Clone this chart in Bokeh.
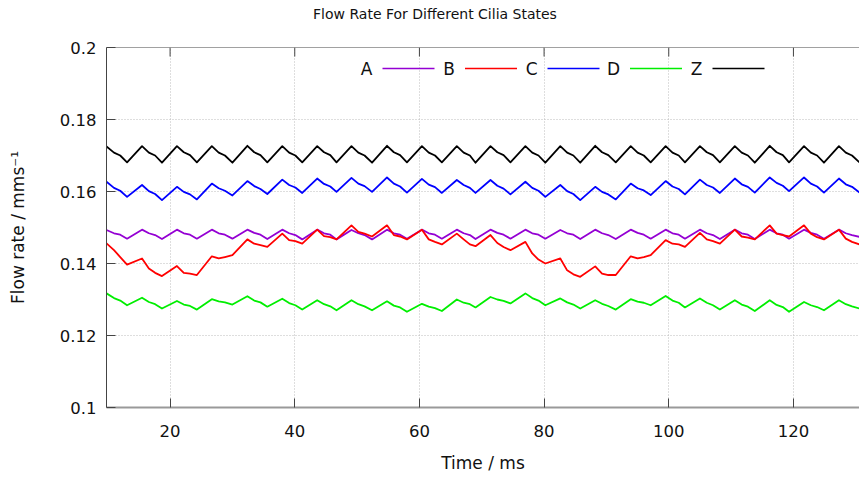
from bokeh.plotting import figure
from bokeh.layouts import column
from bokeh.models import (Range1d, FixedTicker, CustomJSTickFormatter,
                          Label, Arrow, Span, Div)
from bokeh.embed import file_html
from bokeh.resources import INLINE

# ---- data -----------------------------------------------------------------
# sample times (ms): for each beat -> peak, two points on the falling edge, trough
TIME_MS = [
    9.8, 11.0, 12.0, 13.1,
    15.5, 16.6, 17.6, 18.7,
    21.1, 22.2, 23.2, 24.3,
    26.7, 27.8, 28.8, 30.0,
    32.4, 33.5, 34.5, 35.6,
    38.0, 39.1, 40.1, 41.2,
    43.6, 44.7, 45.7, 46.7,
    49.1, 50.2, 51.2, 52.4,
    54.8, 55.9, 56.9, 58.0,
    60.4, 61.5, 62.5, 63.6,
    66.0, 67.1, 68.1, 69.0,
    71.4, 72.5, 73.5, 74.6,
    77.0, 78.1, 79.1, 80.2,
    82.6, 83.7, 84.7, 85.8,
    88.2, 89.3, 90.3, 91.5,
    93.9, 95.0, 96.0, 97.1,
    99.5, 100.6, 101.6, 102.6,
    105.0, 106.1, 107.1, 108.2,
    110.6, 111.7, 112.7, 113.8,
    116.2, 117.3, 118.3, 119.3,
    121.7, 122.8, 123.8, 124.9,
    127.3, 128.4, 129.4, 130.6,
]

FLOW_A = [
    0.1493, 0.1484, 0.1480, 0.1469,
    0.1494, 0.1484, 0.1479, 0.1468,
    0.1494, 0.1484, 0.1480, 0.1469,
    0.1494, 0.1484, 0.1480, 0.1469,
    0.1494, 0.1485, 0.1480, 0.1468,
    0.1494, 0.1484, 0.1479, 0.1467,
    0.1494, 0.1484, 0.1480, 0.1467,
    0.1493, 0.1484, 0.1479, 0.1467,
    0.1494, 0.1484, 0.1480, 0.1469,
    0.1494, 0.1484, 0.1480, 0.1469,
    0.1494, 0.1484, 0.1479, 0.1468,
    0.1494, 0.1485, 0.1480, 0.1469,
    0.1494, 0.1484, 0.1480, 0.1469,
    0.1493, 0.1484, 0.1480, 0.1468,
    0.1494, 0.1484, 0.1479, 0.1468,
    0.1494, 0.1485, 0.1480, 0.1469,
    0.1494, 0.1484, 0.1480, 0.1469,
    0.1494, 0.1484, 0.1479, 0.1468,
    0.1494, 0.1484, 0.1480, 0.1468,
    0.1494, 0.1484, 0.1480, 0.1469,
    0.1494, 0.1485, 0.1480, 0.1469,
    0.1494, 0.1484, 0.1479, 0.1474,
]

FLOW_B = [
    0.1456, 0.1437, 0.1418, 0.1397,
    0.1414, 0.1386, 0.1374, 0.1365,
    0.1393, 0.1374, 0.1372, 0.1368,
    0.1420, 0.1414, 0.1418, 0.1423,
    0.1467, 0.1455, 0.1451, 0.1446,
    0.1483, 0.1465, 0.1462, 0.1455,
    0.1494, 0.1476, 0.1473, 0.1467,
    0.1506, 0.1488, 0.1483, 0.1475,
    0.1506, 0.1479, 0.1475, 0.1467,
    0.1494, 0.1467, 0.1460, 0.1453,
    0.1483, 0.1467, 0.1453, 0.1448,
    0.1479, 0.1457, 0.1446, 0.1437,
    0.1460, 0.1428, 0.1411, 0.1400,
    0.1414, 0.1381, 0.1370, 0.1363,
    0.1392, 0.1372, 0.1368, 0.1368,
    0.1420, 0.1414, 0.1418, 0.1423,
    0.1465, 0.1455, 0.1453, 0.1446,
    0.1485, 0.1467, 0.1462, 0.1455,
    0.1494, 0.1475, 0.1472, 0.1467,
    0.1506, 0.1483, 0.1479, 0.1475,
    0.1506, 0.1483, 0.1473, 0.1467,
    0.1494, 0.1469, 0.1460, 0.1453,
]

FLOW_C = [
    0.1627, 0.1610, 0.1602, 0.1585,
    0.1618, 0.1601, 0.1593, 0.1576,
    0.1613, 0.1599, 0.1592, 0.1578,
    0.1622, 0.1609, 0.1602, 0.1589,
    0.1629, 0.1615, 0.1607, 0.1593,
    0.1633, 0.1618, 0.1611, 0.1596,
    0.1636, 0.1621, 0.1614, 0.1599,
    0.1638, 0.1622, 0.1615, 0.1599,
    0.1639, 0.1622, 0.1614, 0.1597,
    0.1635, 0.1619, 0.1612, 0.1596,
    0.1632, 0.1618, 0.1610, 0.1596,
    0.1632, 0.1616, 0.1608, 0.1592,
    0.1627, 0.1610, 0.1602, 0.1585,
    0.1618, 0.1601, 0.1593, 0.1576,
    0.1613, 0.1599, 0.1592, 0.1578,
    0.1622, 0.1609, 0.1603, 0.1590,
    0.1629, 0.1614, 0.1607, 0.1592,
    0.1633, 0.1618, 0.1611, 0.1596,
    0.1636, 0.1620, 0.1613, 0.1597,
    0.1639, 0.1624, 0.1616, 0.1601,
    0.1639, 0.1622, 0.1614, 0.1597,
    0.1636, 0.1620, 0.1613, 0.1597,
]

FLOW_D = [
    0.1317, 0.1304, 0.1297, 0.1284,
    0.1305, 0.1293, 0.1287, 0.1275,
    0.1296, 0.1286, 0.1282, 0.1272,
    0.1301, 0.1295, 0.1292, 0.1286,
    0.1309, 0.1297, 0.1292, 0.1280,
    0.1302, 0.1290, 0.1284, 0.1272,
    0.1298, 0.1287, 0.1281, 0.1270,
    0.1298, 0.1287, 0.1281, 0.1270,
    0.1295, 0.1283, 0.1278, 0.1266,
    0.1288, 0.1280, 0.1276, 0.1268,
    0.1300, 0.1291, 0.1287, 0.1278,
    0.1307, 0.1300, 0.1296, 0.1289,
    0.1317, 0.1304, 0.1297, 0.1284,
    0.1303, 0.1292, 0.1286, 0.1275,
    0.1298, 0.1288, 0.1282, 0.1272,
    0.1301, 0.1294, 0.1291, 0.1284,
    0.1310, 0.1297, 0.1291, 0.1278,
    0.1303, 0.1291, 0.1284, 0.1272,
    0.1298, 0.1286, 0.1280, 0.1268,
    0.1298, 0.1285, 0.1279, 0.1266,
    0.1293, 0.1284, 0.1279, 0.1270,
    0.1298, 0.1287, 0.1281, 0.1275,
]

FLOW_Z = [
    0.1725, 0.1708, 0.1700, 0.1681,
    0.1726, 0.1708, 0.1700, 0.1680,
    0.1726, 0.1709, 0.1701, 0.1681,
    0.1726, 0.1708, 0.1700, 0.1680,
    0.1727, 0.1709, 0.1701, 0.1681,
    0.1726, 0.1708, 0.1700, 0.1681,
    0.1726, 0.1709, 0.1701, 0.1681,
    0.1726, 0.1708, 0.1700, 0.1680,
    0.1727, 0.1709, 0.1701, 0.1681,
    0.1726, 0.1708, 0.1700, 0.1681,
    0.1726, 0.1708, 0.1700, 0.1680,
    0.1726, 0.1709, 0.1701, 0.1681,
    0.1726, 0.1708, 0.1700, 0.1680,
    0.1726, 0.1708, 0.1700, 0.1680,
    0.1727, 0.1709, 0.1701, 0.1681,
    0.1726, 0.1708, 0.1700, 0.1681,
    0.1726, 0.1708, 0.1700, 0.1681,
    0.1726, 0.1709, 0.1701, 0.1681,
    0.1726, 0.1708, 0.1700, 0.1680,
    0.1727, 0.1709, 0.1701, 0.1681,
    0.1726, 0.1708, 0.1700, 0.1680,
    0.1726, 0.1708, 0.1700, 0.1681,
]

SERIES_NAMES = ["A", "B", "C", "D", "Z"]
SERIES_VALUES = [FLOW_A, FLOW_B, FLOW_C, FLOW_D, FLOW_Z]
SERIES_COLORS = ["#9400d3", "#ff0000", "#0000ff", "#00ee00", "#000000"]

X_RANGE = (9.8, 130.6)
Y_RANGE = (0.1, 0.2)
X_TICKS = [20, 40, 60, 80, 100, 120]
Y_TICKS = [0.1, 0.12, 0.14, 0.16, 0.18, 0.2]
Y_TICK_LABELS = ["0.1", "0.12", "0.14", "0.16", "0.18", "0.2"]

TITLE = "Flow Rate For Different Cilia States"
X_LABEL = "Time / ms"
Y_LABEL = "Flow rate / mms\u207b\u00b9"

FONT = "DejaVu Sans"
TEXT_COLOR = "#111111"
BORDER_COLOR = "#444444"

TITLE_H = 33                        # height of the heading strip in px
FRAME_H = 360                       # plot-area height in px
TICK_PX = 9                         # inward tick length in px

# ---- heading --------------------------------------------------------------
heading = Div(text=TITLE, width=859, height=TITLE_H, margin=(0, 0, 0, 0),
              styles={"font-family": FONT, "font-size": "14px",
                      "color": TEXT_COLOR, "white-space": "nowrap",
                      "padding-left": "313px", "padding-top": "4px",
                      "box-sizing": "border-box", "background": "white"})

# ---- figure ---------------------------------------------------------------
p = figure(
    width=859, height=480 - TITLE_H,
    output_backend="svg", toolbar_location=None,
    x_range=Range1d(*X_RANGE), y_range=Range1d(*Y_RANGE),
    min_border_left=106, min_border_right=0,
    min_border_top=47 - TITLE_H, min_border_bottom=73,
    x_axis_label=X_LABEL, y_axis_label=Y_LABEL,
)
p.title = None
p.outline_line_color = None
p.background_fill_color = "white"
p.border_fill_color = "white"

# axes
for ax in (p.xaxis[0], p.yaxis[0]):
    ax.major_label_text_font = FONT
    ax.major_label_text_font_size = "16.5px"
    ax.major_label_text_color = TEXT_COLOR
    ax.axis_label_text_font = FONT
    ax.axis_label_text_font_size = "17px"
    ax.axis_label_text_font_style = "normal"
    ax.axis_label_text_color = TEXT_COLOR
    ax.major_tick_in = TICK_PX
    ax.major_tick_out = 0
    ax.minor_tick_in = 0
    ax.minor_tick_out = 0
    ax.major_tick_line_color = BORDER_COLOR

p.xaxis.ticker = FixedTicker(ticks=X_TICKS)
p.xaxis.major_label_standoff = 17
p.xaxis.axis_label_standoff = 13
p.xaxis.axis_line_color = "#999999"
p.xaxis.axis_line_width = 2

p.yaxis.ticker = FixedTicker(ticks=Y_TICKS)
p.yaxis.formatter = CustomJSTickFormatter(
    args=dict(tick_values=Y_TICKS, tick_texts=Y_TICK_LABELS),
    code="""
        for (let i = 0; i < tick_values.length; i++) {
            if (Math.abs(tick_values[i] - tick) < 1e-9) return tick_texts[i];
        }
        return String(tick);
    """)
p.yaxis.major_label_standoff = 10
p.yaxis.axis_label_standoff = 29
p.yaxis.axis_line_color = BORDER_COLOR

# dotted grid
for g in (p.xgrid[0], p.ygrid[0]):
    g.grid_line_color = "#bdbdbd"
    g.grid_line_dash = "1 2"
    g.grid_line_width = 1

# top border with mirrored inward ticks
p.add_layout(Span(location=Y_RANGE[1], dimension="width",
                  line_color=BORDER_COLOR, line_width=1))
tick_len = (Y_RANGE[1] - Y_RANGE[0]) * TICK_PX / FRAME_H
p.segment(x0=X_TICKS, x1=X_TICKS,
          y0=[Y_RANGE[1]] * len(X_TICKS),
          y1=[Y_RANGE[1] - tick_len] * len(X_TICKS),
          line_color=BORDER_COLOR, line_width=1)

# ---- series ---------------------------------------------------------------
for name, vals, color in zip(SERIES_NAMES, SERIES_VALUES, SERIES_COLORS):
    p.line(TIME_MS, vals, line_color=color, line_width=1.8, line_join="round")

# ---- key: label followed by a line sample, in one row ---------------------
KEY_Y = 339          # px above frame bottom
KEY_X0 = 266         # px right of frame left (right edge of first label)
KEY_STEP = 82.5
for i, (name, color) in enumerate(zip(SERIES_NAMES, SERIES_COLORS)):
    x = KEY_X0 + i * KEY_STEP
    p.add_layout(Label(x=x, y=KEY_Y, x_units="screen", y_units="screen",
                       text=name, text_align="right", text_baseline="middle",
                       text_font=FONT, text_font_size="17px",
                       text_color=TEXT_COLOR))
    p.add_layout(Arrow(end=None, x_start=x + 10, y_start=KEY_Y,
                       x_end=x + 62, y_end=KEY_Y,
                       start_units="screen", end_units="screen",
                       line_color=color, line_width=1.6))

page = column(heading, p, spacing=0)
open("out.html", "w").write(file_html(page, INLINE))
